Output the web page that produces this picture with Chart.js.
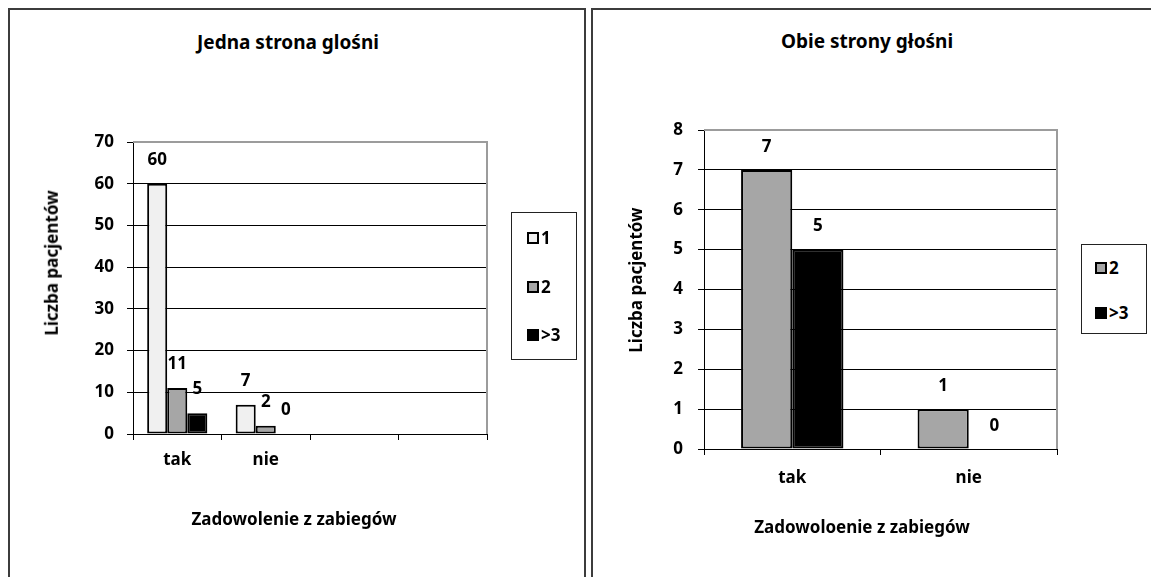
<!DOCTYPE html>
<html lang="pl">
<head>
<meta charset="UTF-8">
<title>Zadowolenie z zabiegów</title>
<script src="https://cdn.jsdelivr.net/npm/chart.js@4.4.0/dist/chart.umd.min.js"></script>
<style>
    body {
        margin: 0;
        background: #fff;
        font-family: 'Noto Sans', sans-serif;
        overflow: hidden;
    }
    .panel {
        position: absolute;
        top: 8px;
        height: 620px;
        border: 2px solid #3c3c3c;
        box-sizing: border-box;
    }
    #panelLeft { left: 8px; width: 578px; }
    #panelRight { left: 591px; width: 620px; }
    /* teksty centrowane w punkcie (left, top) */
    .txt {
        position: absolute;
        font-weight: 700;
        color: #000;
        white-space: nowrap;
        line-height: 1.2;
        transform: translate(-50%, -50%);
    }
    .txt.main { font-size: 19px; }
    .txt.axis { font-size: 17px; }
    .txt.vert { transform: translate(-50%, -50%) rotate(-90deg); }
    canvas { position: absolute; }
    #chartLeft { left: 10px; top: 100px; }
    #chartRight { left: 594px; top: 100px; }
    .legend {
        position: absolute;
        border: 1px solid #222;
        box-sizing: border-box;
        background: #fff;
    }
    #legendLeft { left: 511px; top: 212px; width: 66px; height: 148px; }
    #legendRight { left: 1081px; top: 244px; width: 66px; height: 90px; }
    .legend-item {
        position: absolute;
        height: 20px;
        line-height: 20px;
        font-weight: 700;
        font-size: 17px;
        display: flex;
        align-items: center;
    }
    .swatch {
        width: 12px;
        height: 12px;
        border: 2px solid #000;
        box-sizing: border-box;
        margin-right: 2px;
    }
</style>
</head>
<body>
    <div class="panel" id="panelLeft"></div>
    <div class="panel" id="panelRight"></div>

    <canvas id="chartLeft" width="490" height="477"></canvas>
    <canvas id="chartRight" width="557" height="477"></canvas>

    <div class="txt main" style="left:288px; top:42px;">Jedna strona glośni</div>
    <div class="txt axis vert" style="left:52px; top:263px;">Liczba pacjentów</div>
    <div class="txt axis" style="left:294px; top:519px;">Zadowolenie z zabiegów</div>

    <div class="txt main" style="left:867px; top:41px;">Obie strony głośni</div>
    <div class="txt axis vert" style="left:636px; top:280px;">Liczba pacjentów</div>
    <div class="txt axis" style="left:862px; top:527px;">Zadowoloenie z zabiegów</div>

    <div class="legend" id="legendLeft"></div>
    <div class="legend" id="legendRight"></div>

<script>
// dane - lewy wykres
const leftCategories = ['tak', 'nie', '', ''];
const leftSeriesNames = ['1', '2', '>3'];
const leftOne = [60, 7, null, null];
const leftTwo = [11, 2, null, null];
const leftMore = [5, 0, null, null];
const leftTickMax = 70;
const leftTickStep = 10;

// dane - prawy wykres
const rightCategories = ['tak', 'nie'];
const rightSeriesNames = ['2', '>3'];
const rightTwo = [7, 1];
const rightMore = [5, 0];
const rightTickMax = 8;
const rightTickStep = 1;

const seriesColors = { '1': '#f0f0f0', '2': '#a6a6a6', '>3': '#000000' };

Chart.defaults.font.family = "'Noto Sans', sans-serif";
Chart.defaults.color = '#000';

// szara ramka (góra i prawa strona obszaru wykresu)
const plotFrame = {
    id: 'plotFrame',
    beforeDatasetsDraw(chart) {
        const { ctx, chartArea: a } = chart;
        ctx.save();
        ctx.strokeStyle = '#9c9c9c';
        ctx.lineWidth = 2;
        ctx.beginPath();
        ctx.moveTo(a.left, a.top);
        ctx.lineTo(a.right, a.top);
        ctx.lineTo(a.right, a.bottom);
        ctx.stroke();
        ctx.restore();
    }
};

// etykiety wartości nad słupkami
const valueLabels = {
    id: 'valueLabels',
    afterDatasetsDraw(chart, args, opts) {
        const { ctx } = chart;
        ctx.save();
        ctx.font = "bold 17px 'Noto Sans'";
        ctx.fillStyle = '#000';
        ctx.textAlign = 'center';
        ctx.textBaseline = 'middle';
        chart.data.datasets.forEach((ds, i) => {
            chart.getDatasetMeta(i).data.forEach((bar, j) => {
                const v = ds.data[j];
                if (v === null || v === undefined) return;
                ctx.fillText(String(v), bar.x, bar.y - opts.offset);
            });
        });
        ctx.restore();
    }
};

function makeDataset(name, values) {
    return {
        label: name,
        data: values,
        backgroundColor: seriesColors[name],
        borderColor: '#000',
        borderWidth: 2,
        borderSkipped: false,
        barPercentage: 1
    };
}

function makeOptions(o) {
    const bold = { size: 17, weight: 'bold' };
    return {
        responsive: false,
        animation: false,
        layout: { padding: { top: o.padTop, right: o.padRight, left: 0, bottom: 0 } },
        plugins: {
            legend: { display: false },
            tooltip: { enabled: false },
            valueLabels: { offset: o.labelOffset }
        },
        scales: {
            x: {
                grid: {
                    display: true,
                    drawOnChartArea: false,
                    drawTicks: true,
                    tickLength: 6,
                    color: '#000',
                    offset: true
                },
                border: { color: '#000', width: 1 },
                ticks: { font: bold, padding: o.xTickPad, maxRotation: 0 },
                afterFit: s => { s.height = o.xHeight; }
            },
            y: {
                min: 0,
                max: o.max,
                grid: {
                    color: '#000',
                    lineWidth: 1,
                    tickColor: '#000',
                    tickLength: 6
                },
                border: { color: '#000', width: 1 },
                ticks: { stepSize: o.step, font: bold, padding: o.yTickPad },
                afterFit: s => { s.width = o.yWidth; }
            }
        }
    };
}

new Chart(document.getElementById('chartLeft'), {
    type: 'bar',
    data: {
        labels: leftCategories,
        datasets: [
            makeDataset(leftSeriesNames[0], leftOne),
            makeDataset(leftSeriesNames[1], leftTwo),
            makeDataset(leftSeriesNames[2], leftMore)
        ].map(d => Object.assign(d, { categoryPercentage: 0.68 }))
    },
    options: makeOptions({
        padTop: 42, padRight: 13, labelOffset: 24,
        xTickPad: 10, xHeight: 143,
        max: leftTickMax, step: leftTickStep, yTickPad: 13, yWidth: 123
    }),
    plugins: [plotFrame, valueLabels]
});

new Chart(document.getElementById('chartRight'), {
    type: 'bar',
    data: {
        labels: rightCategories,
        datasets: [
            makeDataset(rightSeriesNames[0], rightTwo),
            makeDataset(rightSeriesNames[1], rightMore)
        ].map(d => Object.assign(d, { categoryPercentage: 0.58 }))
    },
    options: makeOptions({
        padTop: 30, padRight: 94, labelOffset: 23,
        xTickPad: 13, xHeight: 128,
        max: rightTickMax, step: rightTickStep, yTickPad: 15, yWidth: 110
    }),
    plugins: [plotFrame, valueLabels]
});

// legenda w ramce
function buildLegend(id, names, firstTop, gap, left) {
    const box = document.getElementById(id);
    names.forEach((name, i) => {
        const item = document.createElement('div');
        item.className = 'legend-item';
        item.style.top = (firstTop + i * gap - 10) + 'px';
        item.style.left = left + 'px';
        const sw = document.createElement('span');
        sw.className = 'swatch';
        sw.style.background = seriesColors[name];
        const txt = document.createElement('span');
        txt.textContent = name;
        item.appendChild(sw);
        item.appendChild(txt);
        box.appendChild(item);
    });
}

buildLegend('legendLeft', leftSeriesNames, 25, 48.5, 15);
buildLegend('legendRight', rightSeriesNames, 23, 45, 13);
</script>
</body>
</html>
